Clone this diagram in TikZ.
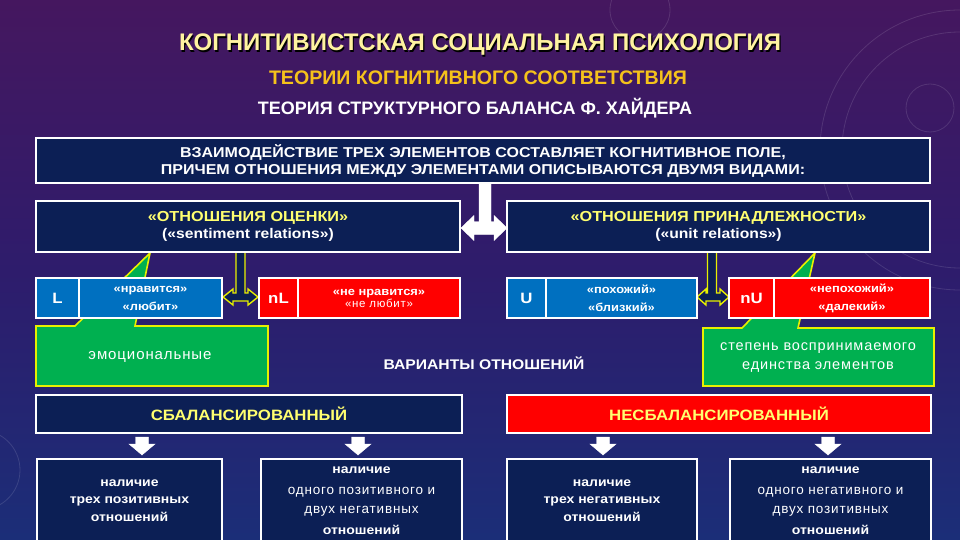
\documentclass[tikz,border=0pt]{standalone}
\usepackage{fontspec}
\setmainfont{Liberation Sans}
\newfontfamily\widef[FakeStretch=1.12]{Liberation Sans}
\newfontfamily\spcf[LetterSpace=6]{Liberation Sans}
\usetikzlibrary{calc}
\definecolor{navy}{HTML}{0C1F55}
\definecolor{bblue}{HTML}{0070C0}
\definecolor{bred}{HTML}{FF0000}
\definecolor{cgreen}{HTML}{00B050}
\definecolor{cyell}{HTML}{E8F000}
\definecolor{ttl}{HTML}{FFF3A0}
\definecolor{subc}{HTML}{F5C21B}
\definecolor{hy}{HTML}{FFFF70}
\definecolor{bgtop}{HTML}{45175F}
\definecolor{bgmid}{HTML}{2E1C6C}
\definecolor{bgbot}{HTML}{1B2E78}
\tikzset{
  box/.style={draw=white, line width=1.6pt, inner sep=0pt, align=center, text=white},
  navybox/.style={box, fill=navy},
  bluebox/.style={box, fill=bblue},
  redbox/.style={box, fill=bred},
  callout/.style={draw=cyell, line width=1.6pt, fill=cgreen, line join=miter},
  yarrow/.style={draw=cyell, line width=1.4pt, fill=navy, line join=miter},
  warrow/.style={fill=white, draw=white, line width=0.4pt},
  lbl/.style={inner sep=0pt, align=center, text=white},
}
\begin{document}
\begin{tikzpicture}[x=1pt,y=-1pt]
\useasboundingbox (0,0) rectangle (960,540);
\clip (0,0) rectangle (960,540);
% background
\shade[top color=bgtop, bottom color=bgbot, middle color=bgmid] (0,0) rectangle (960,540);
\begin{scope}[draw=white, opacity=0.12, line width=0.8pt]
  \draw (930,108) circle (24);
  \draw (960,150) circle (118);
  \draw (960,150) circle (140);
  \draw (640,10) circle (30);
  \draw (-20,470) circle (40);
\end{scope}
% titles
\node[lbl, text=black, font=\bfseries\fontsize{24}{28}\selectfont] at (481.2,46.2) {КОГНИТИВИСТСКАЯ СОЦИАЛЬНАЯ ПСИХОЛОГИЯ};
\node[lbl, text=ttl, font=\bfseries\fontsize{24}{28}\selectfont] (title) at (480,45) {КОГНИТИВИСТСКАЯ СОЦИАЛЬНАЯ ПСИХОЛОГИЯ};
\node[lbl, text=subc, font=\bfseries\fontsize{19.6}{22}\selectfont] (sub1) at (478,78) {ТЕОРИИ КОГНИТИВНОГО СООТВЕТСТВИЯ};
\node[lbl, text=white, font=\bfseries\fontsize{18}{20}\selectfont] (sub2) at (475,108) {ТЕОРИЯ СТРУКТУРНОГО БАЛАНСА Ф. ХАЙДЕРА};
% top box
\node[navybox, minimum width=894pt, minimum height=45pt, font=\widef\bfseries\fontsize{14.3}{17}\selectfont] (top) at (483,160.5)
  {ВЗАИМОДЕЙСТВИЕ ТРЕХ ЭЛЕМЕНТОВ СОСТАВЛЯЕТ КОГНИТИВНОЕ ПОЛЕ,\\ПРИЧЕМ ОТНОШЕНИЯ МЕЖДУ ЭЛЕМЕНТАМИ ОПИСЫВАЮТСЯ ДВУМЯ ВИДАМИ:};
% callouts (behind boxes)
\draw[callout] (36,326) -- (75,326) -- (150,253) -- (135,326) -- (268,326) -- (268,386) -- (36,386) -- cycle;
\node[lbl, font=\spcf\fontsize{15}{18}\selectfont] (emo) at (150,357) {эмоциональные};
\draw[callout] (703,328) -- (742,328) -- (815,253) -- (798,328) -- (934,328) -- (934,386) -- (703,386) -- cycle;
\node[lbl, font=\spcf\fontsize{14.5}{19.5}\selectfont] (deg) at (818,357.5) {степень воспринимаемого\\единства элементов};
% header boxes
\node[navybox, minimum width=424pt, minimum height=51pt] (hL) at (248,226.5)
  {{\color{hy}\widef\bfseries\fontsize{14.5}{18}\selectfont «ОТНОШЕНИЯ ОЦЕНКИ»}\\[3pt]{\widef\bfseries\fontsize{14}{18}\selectfont («sentiment relations»)}};
\node[navybox, minimum width=423pt, minimum height=51pt] (hR) at (718.5,226.5)
  {{\color{hy}\widef\bfseries\fontsize{14.5}{18}\selectfont «ОТНОШЕНИЯ ПРИНАДЛЕЖНОСТИ»}\\[3pt]{\widef\bfseries\fontsize{14}{18}\selectfont («unit relations»)}};
% white T arrow
\draw[warrow] (479,183) -- (479,221.5) -- (474,221.5) -- (474,215.5) -- (461,228) -- (474,240.5) -- (474,234.5)
  -- (494,234.5) -- (494,240.5) -- (507,228) -- (494,215.5) -- (494,221.5) -- (491,221.5) -- (491,183) -- cycle;
% yellow arrows
\draw[yarrow] (236,253) -- (236,293) -- (233,293) -- (233,289) -- (223,297) -- (233,305) -- (233,301)
  -- (248,301) -- (248,305) -- (258,297) -- (248,289) -- (248,293) -- (245,293) -- (245,253);
\draw[yarrow] (707.5,253) -- (707.5,293) -- (706,293) -- (706,289) -- (697,297) -- (706,305) -- (706,301)
  -- (720,301) -- (720,305) -- (729,297) -- (720,289) -- (720,293) -- (716.5,293) -- (716.5,253);
% relation boxes
\tikzset{rowtxt/.style={font=\widef\bfseries\fontsize{11.5}{18}\selectfont}, letter/.style={font=\widef\bfseries\fontsize{15}{18}\selectfont}}
\node[bluebox, minimum width=43pt, minimum height=40pt, letter] (L) at (57.5,298) {L};
\node[bluebox, minimum width=143pt, minimum height=40pt, rowtxt] (Lt) at (150.5,298) {«нравится»\\«любит»};
\node[redbox, minimum width=39pt, minimum height=40pt, letter] (nL) at (278.5,298) {nL};
\node[redbox, minimum width=162pt, minimum height=40pt] (nLt) at (379,298) {{\widef\bfseries\fontsize{11.5}{18}\selectfont «не нравится»}\\{\spcf\fontsize{11.5}{18}\selectfont «не любит»}};
\node[bluebox, minimum width=39pt, minimum height=40pt, letter] (U) at (526.5,298) {U};
\node[bluebox, minimum width=151pt, minimum height=40pt, rowtxt] (Ut) at (621.5,298) {«похожий»\\«близкий»};
\node[redbox, minimum width=45pt, minimum height=40pt, letter] (nU) at (751.5,298) {nU};
\node[redbox, minimum width=156pt, minimum height=40pt, rowtxt] (nUt) at (852,298) {«непохожий»\\«далекий»};
% variants
\node[lbl, font=\widef\bfseries\fontsize{14}{17}\selectfont] (var) at (484,363) {ВАРИАНТЫ ОТНОШЕНИЙ};
\node[navybox, minimum width=426pt, minimum height=38pt, text=hy, font=\widef\bfseries\fontsize{15}{18}\selectfont] (bal) at (249,414) {СБАЛАНСИРОВАННЫЙ};
\node[redbox, minimum width=424pt, minimum height=38pt, text=hy, font=\widef\bfseries\fontsize{15}{18}\selectfont] (unb) at (719,414) {НЕСБАЛАНСИРОВАННЫЙ};
% down arrows
\foreach \ax in {142,358,603,828}{
  \draw[warrow] ({\ax-6.5},437) -- ({\ax+6.5},437) -- ({\ax+6.5},444) -- ({\ax+13},444) -- (\ax,455) -- ({\ax-13},444) -- ({\ax-6.5},444) -- cycle;
}
% bottom boxes
\node[navybox, minimum width=185pt, minimum height=100pt, anchor=north] (b1) at (129.5,458) {};
\node[navybox, minimum width=201pt, minimum height=100pt, anchor=north] (b2) at (361.5,458) {};
\node[navybox, minimum width=190pt, minimum height=100pt, anchor=north] (b3) at (602,458) {};
\node[navybox, minimum width=201pt, minimum height=100pt, anchor=north] (b4) at (830.5,458) {};
\tikzset{bt/.style={lbl, font=\widef\bfseries\fontsize{12.5}{17.5}\selectfont}, bn/.style={lbl, font=\spcf\fontsize{13.5}{19}\selectfont}}
\node[bt] (t1) at (129.5,500.5) {наличие\\трех позитивных\\отношений};
\node[bt] (t2a) at (361.5,470.5) {наличие};
\node[bn] (t2b) at (361.5,501.5) {одного позитивного и\\двух негативных};
\node[bt] (t2c) at (361.5,530) {отношений};
\node[bt] (t3) at (602,500.5) {наличие\\трех негативных\\отношений};
\node[bt] (t4a) at (830.5,470.5) {наличие};
\node[bn] (t4b) at (830.5,501.5) {одного негативного и\\двух позитивных};
\node[bt] (t4c) at (830.5,530) {отношений};
\end{tikzpicture}
\end{document}
